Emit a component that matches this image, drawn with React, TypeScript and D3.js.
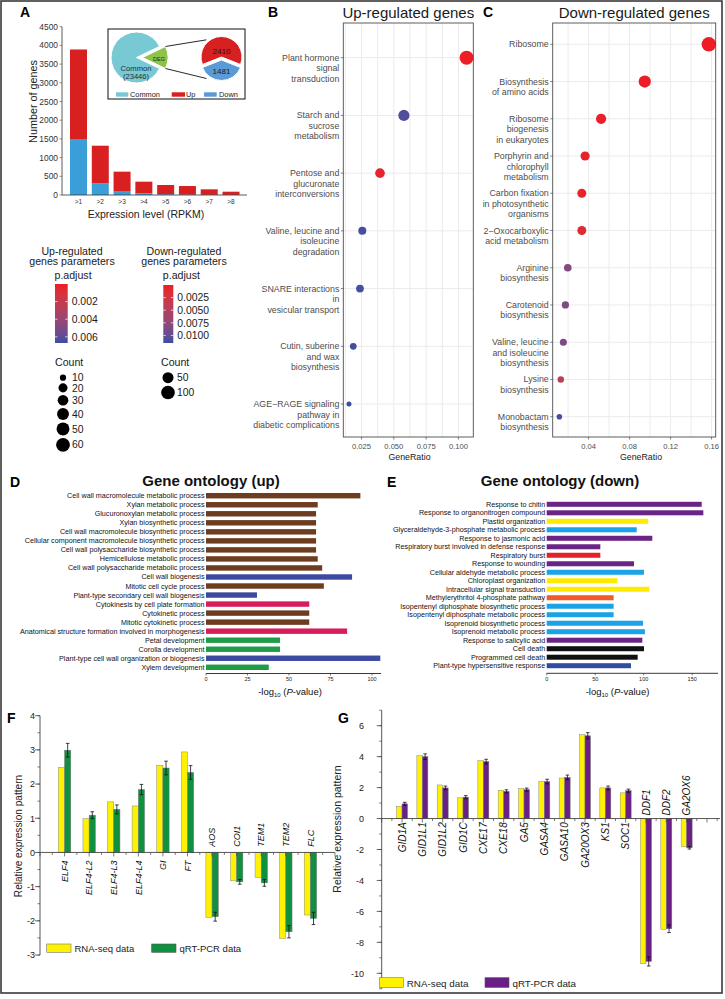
import React from 'react';
import * as d3 from 'd3';

const FONT = '"Liberation Sans", Arial, Helvetica, sans-serif';

// ---------- A: genes by expression level ----------
const rpkmLevels = ['>1', '>2', '>3', '>4', '>5', '>6', '>7', '>8'];
const upGenes = [2410, 1006, 517, 311, 247, 230, 147, 85];
const downGenes = [1481, 312, 107, 45, 20, 10, 5, 3];
const geneTicks = [0, 500, 1000, 1500, 2000, 2500, 3000, 3500, 4000, 4500];
const pieCommon = 23446;
const pieUp = 2410;
const pieDown = 1481;

// ---------- B: KEGG up ----------
const upPathways = [
  'Plant hormone\nsignal\ntransduction',
  'Starch and\nsucrose\nmetabolism',
  'Pentose and\nglucuronate\ninterconversions',
  'Valine, leucine and\nisoleucine\ndegradation',
  'SNARE interactions\nin\nvesicular transport',
  'Cutin, suberine\nand wax\nbiosynthesis',
  'AGE\u2212RAGE signaling\npathway in\ndiabetic complications',
];
const upRatio = [0.1063, 0.0578, 0.0393, 0.0256, 0.0238, 0.0186, 0.0153];
const upCount = [62, 34, 23, 15, 14, 11, 9];
const upPadj = [0.0001, 0.0063, 0.0004, 0.0065, 0.0065, 0.0066, 0.0067];
const upPadjTicks = [0.002, 0.004, 0.006];
const upCountTicks = [10, 20, 30, 40, 50, 60];

// ---------- C: KEGG down ----------
const downPathways = [
  'Ribosome',
  'Biosynthesis\nof amino acids',
  'Ribosome\nbiogenesis\nin eukaryotes',
  'Porphyrin and\nchlorophyll\nmetabolism',
  'Carbon fixation\nin photosynthetic\norganisms',
  '2\u2212Oxocarboxylic\nacid metabolism',
  'Arginine\nbiosynthesis',
  'Carotenoid\nbiosynthesis',
  'Valine, leucine\nand isoleucine\nbiosynthesis',
  'Lysine\nbiosynthesis',
  'Monobactam\nbiosynthesis',
];
const downRatio = [0.1573, 0.0948, 0.0522, 0.0366, 0.0334, 0.0334, 0.0197, 0.0174, 0.0154, 0.0129, 0.0115];
const downCount = [118, 71, 39, 27, 25, 25, 15, 13, 12, 10, 9];
const downPadj = [0.00001, 0.00005, 0.0002, 0.0004, 0.0005, 0.0011, 0.0084, 0.0086, 0.0086, 0.0046, 0.0112];
const downPadjTicks = [0.0025, 0.005, 0.0075, 0.01];
const downCountTicks = [50, 100];

// ---------- D: GO up ----------
const goUpTerms = [
  'Cell wall macromolecule metabolic process',
  'Xylan metabolic process',
  'Glucuronoxylan metabolic process',
  'Xylan biosynthetic process',
  'Cell wall macromolecule biosynthetic process',
  'Cellular component macromolecule biosynthetic process',
  'Cell wall polysaccharide biosynthetic process',
  'Hemicellulose metabolic process',
  'Cell wall polysaccharide metabolic process',
  'Cell wall biogenesis',
  'Mitotic cell cycle process',
  'Plant-type secondary cell wall biogenesis',
  'Cytokinesis by cell plate formation',
  'Cytokinetic process',
  'Mitotic cytokinetic process',
  'Anatomical structure formation involved in morphogenesis',
  'Petal development',
  'Corolla development',
  'Plant-type cell wall organization or biogenesis',
  'Xylem development',
];
const goUpValues = [93, 67.3, 66.3, 66.3, 66.3, 66.3, 66.3, 67.3, 70, 88, 71, 30.7, 62.2, 62.2, 62.2, 85, 44.6, 44.6, 105, 37.8];
const goUpGroups = ['b', 'b', 'b', 'b', 'b', 'b', 'b', 'b', 'b', 'n', 'b', 'n', 'p', 'b', 'b', 'p', 'g', 'g', 'n', 'g'];
const goUpColors: Record<string, string> = { b: '#6e3d1f', n: '#3c4aa0', p: '#d81d5c', g: '#1f9c48' };

// ---------- E: GO down ----------
const goDownTerms = [
  'Response to chitin',
  'Response to organonitrogen compound',
  'Plastid organization',
  'Glyceraldehyde-3-phosphate metabolic process',
  'Response to jasmonic acid',
  'Respiratory burst involved in defense response',
  'Respiratory burst',
  'Response to wounding',
  'Cellular aldehyde metabolic process',
  'Chloroplast organization',
  'Intracellular signal transduction',
  'Methylerythritol 4-phosphate pathway',
  'Isopentenyl diphosphate biosynthetic process',
  'Isopentenyl diphosphate metabolic process',
  'Isoprenoid biosynthetic process',
  'Isoprenoid metabolic process',
  'Response to salicylic acid',
  'Cell death',
  'Programmed cell death',
  'Plant-type hypersensitive response',
];
const goDownValues = [159.8, 161.5, 104.7, 92.8, 108.9, 55.3, 55.3, 90, 100.3, 72.8, 105.8, 69, 69, 69, 99.3, 101.3, 98.6, 100.3, 93.8, 86.9];
const goDownGroups = ['v', 'v', 'y', 'c', 'v', 'v', 'r', 'v', 'c', 'y', 'y', 'o', 'c', 'c', 'c', 'c', 'v', 'k', 'k', 'n'];
const goDownColors: Record<string, string> = {
  v: '#6a2485', y: '#ffeb00', c: '#1ca2e6', r: '#e5222a', o: '#f15a29', k: '#111111', n: '#2f4e9f',
};

// ---------- F: validation 1 ----------
const fGenes = ['ELF4', 'ELF4-L2', 'ELF4-L3', 'ELF4-L4', 'GI', 'FT', 'AOS', 'COI1', 'TEM1', 'TEM2', 'FLC'];
const fRnaSeq = [2.49, 0.99, 1.48, 1.36, 2.55, 2.94, -1.9, -0.83, -0.73, -2.52, -1.83];
const fQpcr = [2.99, 1.09, 1.26, 1.84, 2.47, 2.34, -1.88, -0.86, -0.89, -2.32, -1.93];
const fQpcrErr = [0.2, 0.1, 0.13, 0.15, 0.2, 0.2, 0.13, 0.07, 0.1, 0.18, 0.18];

// ---------- G: validation 2 ----------
const gGenes = ['GID1A', 'GID1L1', 'GID1L2', 'GID1C', 'CXE17', 'CXE18', 'GA5', 'GASA4', 'GASA10', 'GA20OX3', 'KS1', 'SOC1', 'DDF1', 'DDF2', 'GA2OX6'];
const gRnaSeq = [0.79, 4.06, 2.17, 1.34, 3.74, 1.83, 1.94, 2.39, 2.62, 5.42, 1.98, 1.66, -9.38, -7.16, -1.81];
const gQpcr = [0.95, 4.0, 1.98, 1.38, 3.68, 1.76, 1.87, 2.39, 2.66, 5.35, 1.98, 1.8, -9.23, -7.12, -1.89];
const gQpcrErr = [0.1, 0.18, 0.12, 0.1, 0.15, 0.1, 0.1, 0.15, 0.15, 0.2, 0.12, 0.1, 0.3, 0.25, 0.08];

const P_LOW = '#ee1c25';
const P_HIGH = '#3b4ea3';
const colorUp = d3.scaleLinear<string>().domain([0, 0.0067]).range([P_LOW, P_HIGH]).interpolate(d3.interpolateLab);
const colorDown = d3.scaleLinear<string>().domain([0, 0.0115]).range([P_LOW, P_HIGH]).interpolate(d3.interpolateLab);

// ggplot-like area scale for point sizes
function sizeScale(counts: number[], rMin: number, rMax: number) {
  const norm = d3.scaleLinear().domain(d3.extent(counts) as [number, number]).range([0, 1]).clamp(true);
  const rad = d3.scaleLinear().domain([0, 1]).range([rMin, rMax]);
  return (c: number) => rad(Math.sqrt(norm(c)));
}
const sizeUp = sizeScale(upCount, 2.5, 7);
const sizeDown = sizeScale(downCount, 2.8, 7.2);

function PanelA() {
  const x = d3.scaleBand<string>().domain(rpkmLevels).range([67.6, 241.9]).paddingInner(0.22).paddingOuter(0.11);
  const y = d3.scaleLinear().domain([0, 4500]).range([195, 26.7]);
  const rows = rpkmLevels.map((level, i) => ({ level, down: downGenes[i], up: upGenes[i] }));
  const series = d3.stack<any>().keys(['down', 'up'])(rows);
  const fills: Record<string, string> = { down: '#3a9fd8', up: '#d7201f' };

  // inset pies
  const c1 = [136.5, 57.5];
  const r1 = 25.5;
  const deg = pieUp + pieDown;
  const half = Math.PI * deg / (pieCommon + deg);
  const pie1 = d3.pie<number>().sort(null).startAngle(Math.PI / 2 + half).endAngle(Math.PI / 2 + half + 2 * Math.PI)([pieCommon, deg]);
  const arc1 = d3.arc<d3.PieArcDatum<number>>().innerRadius(0).outerRadius(r1);
  const off = 6;
  const c2 = [221.5, 58.5];
  const r2 = 20.5;
  const upAng = 2 * Math.PI * pieUp / (pieUp + pieDown);
  const pie2 = d3.pie<number>().sort(null).startAngle(-upAng / 2).endAngle(-upAng / 2 + 2 * Math.PI)([pieUp, pieDown]);
  const arc2 = d3.arc<d3.PieArcDatum<number>>().innerRadius(0).outerRadius(r2);
  const pt = (c: number[], r: number, a: number) => [c[0] + r * Math.sin(a), c[1] - r * Math.cos(a)];
  const degC = [c1[0] + off, c1[1]];
  const lineA = [pt(degC, r1, Math.PI / 2 - half), pt(c2, 24, -0.68)];
  const lineB = [pt(degC, r1, Math.PI / 2 + half), pt(c2, 25, -2.5)];
  const pie2Cols = ['#d7201f', '#5b9bd5'];
  const pie2Lab = [7.5, 12.5];

  return (
    <g>
      <text x={20} y={17} fontSize={14} fontWeight="bold">A</text>
      {geneTicks.map(t => (
        <g key={t}>
          <line x1={59.5} x2={62} y1={y(t)} y2={y(t)} stroke="#444" strokeWidth={0.6} />
          <text x={58} y={y(t) + 3} textAnchor="end" fontSize={8.4} fill="#333">{t}</text>
        </g>
      ))}
      <line x1={62} x2={62} y1={y(4500)} y2={y(0)} stroke="#333" strokeWidth={0.8} />
      {series.map(s => s.map((d, i) => (
        <rect key={s.key + i} x={x(rpkmLevels[i])} width={x.bandwidth()} y={y(d[1])}
          height={y(d[0]) - y(d[1])} fill={fills[s.key]} />
      )))}
      <line x1={62} x2={247} y1={y(0)} y2={y(0)} stroke="#333" strokeWidth={0.8} />
      {rpkmLevels.map(l => (
        <text key={l} x={(x(l) || 0) + x.bandwidth() / 2} y={204} textAnchor="middle" fontSize={6.5} fill="#333">{l}</text>
      ))}
      <text x={146} y={218} textAnchor="middle" fontSize={10.5} fill="#222">Expression level (RPKM)</text>
      <text transform="translate(37,101.5) rotate(-90)" textAnchor="middle" fontSize={10.8} fill="#222">Number of genes</text>

      <rect x={108} y={29} width={137} height={70} fill="#fff" stroke="#111" strokeWidth={1} />
      <path d={arc1(pie1[0]) || ''} transform={`translate(${c1[0]},${c1[1]})`} fill="#77c9d4" stroke="#fff" strokeWidth={1} />
      <path d={arc1(pie1[1]) || ''} transform={`translate(${degC[0]},${degC[1]})`} fill="#8dc34b" stroke="#fff" strokeWidth={1} />
      <line x1={lineA[0][0]} y1={lineA[0][1]} x2={lineA[1][0]} y2={lineA[1][1]} stroke="#111" strokeWidth={0.9} />
      <line x1={lineB[0][0]} y1={lineB[0][1]} x2={lineB[1][0]} y2={lineB[1][1]} stroke="#111" strokeWidth={0.9} />
      {pie2.map((d, i) => {
        const mid = (d.startAngle + d.endAngle) / 2;
        const cc = pt(c2, 1.5, mid);
        const lp = pt(c2, pie2Lab[i], mid);
        return (
          <g key={i}>
            <path d={arc2(d) || ''} transform={`translate(${cc[0]},${cc[1]})`} fill={pie2Cols[i]} stroke="#fff" strokeWidth={1} />
            <text x={lp[0]} y={lp[1] + 3} textAnchor="middle" fontSize={8} fill="#1a1a1a">{i === 0 ? pieUp : pieDown}</text>
          </g>
        );
      })}
      <text x={159} y={61} textAnchor="middle" fontSize={5.5} fill="#1a2a1a">DEG</text>
      <text x={136} y={71} textAnchor="middle" fontSize={7.6} fill="#1a2f3a">Common</text>
      <text x={136} y={78.5} textAnchor="middle" fontSize={7.6} fill="#1a2f3a">({pieCommon})</text>
      <rect x={116} y={92.3} width={12.3} height={4.4} fill="#77c9d4" />
      <text x={130} y={96.8} fontSize={7.4} fill="#222">Common</text>
      <rect x={171.7} y={92.3} width={13.3} height={4.4} fill="#d7201f" />
      <text x={186} y={96.8} fontSize={7.4} fill="#222">Up</text>
      <rect x={204} y={92.3} width={12.7} height={4.4} fill="#5b9bd5" />
      <text x={219} y={96.8} fontSize={7.4} fill="#222">Down</text>
    </g>
  );
}

function ParamLegend(props: {
  id: string; heading: string[]; headX: number; barX: number; barW: number; barRange: [number, number];
  domain: [number, number]; color: (p: number) => string; ticks: number[]; fmt: string;
  counts: number[]; size: (c: number) => number; countX: number; circleX: number; labelX: number;
}) {
  const { id, heading, headX, barX, barW, barRange, domain, color, ticks, fmt, counts, size, countX, circleX, labelX } = props;
  const y = d3.scaleLinear().domain(domain).range(barRange);
  const stops = d3.range(0, 1.0001, 0.1);
  const f = d3.format(fmt);
  let cy = 377.7;
  const circles = counts.map((c, i) => {
    if (i > 0) cy += size(counts[i - 1]) + size(c) + 2.5;
    return { c, cy };
  });
  return (
    <g fill="#1a1a1a">
      <defs>
        <linearGradient id={id} x1="0" y1="0" x2="0" y2="1">
          {stops.map(s => <stop key={s} offset={s} stopColor={color(domain[0] + s * (domain[1] - domain[0]))} />)}
        </linearGradient>
      </defs>
      {heading.map((h, i) => (
        <text key={h} x={headX} y={255 + i * 10.3} textAnchor="middle" fontSize={10.6}>{h}</text>
      ))}
      <text x={barX - 0.5} y={278.5} fontSize={10.6}>p.adjust</text>
      <rect x={barX} y={barRange[0]} width={barW} height={barRange[1] - barRange[0]} fill={`url(#${id})`} />
      {ticks.map(t => (
        <g key={t}>
          <line x1={barX} x2={barX + 2.5} y1={y(t)} y2={y(t)} stroke="#fff" strokeWidth={0.7} />
          <line x1={barX + barW - 2.5} x2={barX + barW} y1={y(t)} y2={y(t)} stroke="#fff" strokeWidth={0.7} />
          <text x={barX + barW + 4} y={y(t) + 3.7} fontSize={10.4}>{f(t)}</text>
        </g>
      ))}
      <text x={countX} y={366} fontSize={10.6}>Count</text>
      {circles.map(d => (
        <g key={d.c}>
          <circle cx={circleX} cy={d.cy} r={size(d.c)} fill="#000" />
          <text x={labelX} y={d.cy + 3.7} fontSize={10.4}>{d.c}</text>
        </g>
      ))}
    </g>
  );
}

function DotPanel(props: {
  letter: string; letterX: number; title: string; left: number; right: number; top: number; bottom: number;
  xDomain: [number, number]; xRange: [number, number]; ticks: number[]; fmt: string; names: string[];
  ratios: number[]; counts: number[]; padj: number[]; color: (p: number) => string; size: (c: number) => number;
  yFirst: number; yLast: number; ratioX: number;
}) {
  const p = props;
  const x = d3.scaleLinear().domain(p.xDomain).range(p.xRange);
  const y = d3.scalePoint<string>().domain(p.names).range([p.yFirst, p.yLast]);
  const f = d3.format(p.fmt);
  const step = p.ticks[1] - p.ticks[0];
  const grid = d3.range(p.ticks[0] - step / 2, p.xDomain[1] + 1e-9, step / 2).filter(t => x(t) > p.left && x(t) < p.right);
  return (
    <g>
      <text x={p.letterX} y={17} fontSize={14} fontWeight="bold">{p.letter}</text>
      <text x={(p.left + p.right) / 2} y={18} textAnchor="middle" fontSize={15} fill="#1a1a1a">{p.title}</text>
      {grid.map(t => (
        <line key={'g' + t} x1={x(t)} x2={x(t)} y1={p.top} y2={p.bottom} stroke="#ebebeb" strokeWidth={1} />
      ))}
      {p.names.map(n => (
        <line key={'h' + n} x1={p.left} x2={p.right} y1={y(n)} y2={y(n)} stroke="#ebebeb" strokeWidth={1} />
      ))}
      {p.names.map((n, i) => (
        <circle key={'c' + n} cx={x(p.ratios[i])} cy={y(n)} r={p.size(p.counts[i])} fill={p.color(p.padj[i])} />
      ))}
      <rect x={p.left} y={p.top} width={p.right - p.left} height={p.bottom - p.top} fill="none" stroke="#4d4d4d" strokeWidth={0.9} />
      {p.names.map(n => (
        <g key={'l' + n}>
          <line x1={p.left - 2.5} x2={p.left} y1={y(n)} y2={y(n)} stroke="#4d4d4d" strokeWidth={0.7} />
          <text x={p.left - 4} y={(y(n) || 0) + 3} textAnchor="end" fontSize={8.8} fill="#4d4d4d">
            {n.split('\n').map((line, i) => (
              <tspan key={i} x={p.left - 4} dy={i === 0 ? 0 : 10.5}>{line}</tspan>
            ))}
          </text>
        </g>
      ))}
      {p.ticks.map(t => (
        <g key={'t' + t}>
          <line x1={x(t)} x2={x(t)} y1={p.bottom} y2={p.bottom + 2.5} stroke="#4d4d4d" strokeWidth={0.7} />
          <text x={x(t)} y={p.bottom + 12} textAnchor="middle" fontSize={7.6} fill="#4d4d4d">{f(t)}</text>
        </g>
      ))}
      <text x={p.ratioX} y={460} textAnchor="middle" fontSize={8.8} fill="#1a1a1a">GeneRatio</text>
    </g>
  );
}

function GoPanel(props: {
  letter: string; letterX: number; title: string; titleX: number; terms: string[]; values: number[];
  groups: string[]; colors: Record<string, string>; xDomain: [number, number]; xRange: [number, number];
  axisEnd: number; ticks: number[]; yRange: [number, number]; padIn: number; axisY: number; labelCenter: number;
}) {
  const p = props;
  const x = d3.scaleLinear().domain(p.xDomain).range(p.xRange);
  const y = d3.scaleBand<string>().domain(p.terms).range(p.yRange).paddingInner(p.padIn).paddingOuter(p.padIn / 2);
  return (
    <g>
      <text x={p.letterX} y={487} fontSize={14} fontWeight="bold">{p.letter}</text>
      <text x={p.titleX} y={486} textAnchor="middle" fontSize={15} fontWeight="bold" fill="#111">{p.title}</text>
      {p.terms.map((t, i) => (
        <g key={t}>
          <rect x={x(0)} y={y(t)} width={x(p.values[i]) - x(0)} height={y.bandwidth()} fill={p.colors[p.groups[i]]} />
          <text x={x(0) - 1.5} y={(y(t) || 0) + y.bandwidth() / 2 + 2.5} textAnchor="end" fontSize={7.2} fill="#111">{t}</text>
        </g>
      ))}
      <line x1={x(0)} x2={p.axisEnd} y1={p.axisY} y2={p.axisY} stroke="#222" strokeWidth={0.9} />
      {p.ticks.map(t => (
        <g key={t}>
          <line x1={x(t)} x2={x(t)} y1={p.axisY} y2={p.axisY + 2} stroke="#222" strokeWidth={0.6} />
          <text x={x(t)} y={p.axisY + 7.5} textAnchor="middle" fontSize={5.5} fill="#222">{t}</text>
        </g>
      ))}
      <text x={p.labelCenter} y={695} textAnchor="middle" fontSize={9.5} fill="#111">
        -log<tspan fontSize={6} dy={2}>10</tspan><tspan dy={-2}> (</tspan><tspan fontStyle="italic">P</tspan>-value)
      </text>
    </g>
  );
}

function ExprPanel(props: {
  letter: string; letterX: number; genes: string[]; rna: number[]; qpcr: number[]; err: number[];
  yDomain: [number, number]; yRange: [number, number]; axisDomain: [number, number];
  majorStep: number; minorStep: number; xLeft: number; xRight: number; trailing: number; axisEnd: number;
  barW: number; qColor: string; tickLabelX: number; yLabelX: number; yLabelY: number; yLabelSize: number;
  geneSize: number; below: number; above: number; legendY: number; legendX: number[]; legendSize: number; swW: number; swH: number;
}) {
  const p = props;
  const y = d3.scaleLinear().domain(p.yDomain).range(p.yRange);
  const slots = ['', ...p.genes, ...d3.range(p.trailing).map(i => ' '.repeat(i + 1))];
  const x = d3.scalePoint<string>().domain(slots).range([p.xLeft, p.xRight]);
  const y0 = y(0);
  const majors = d3.range(p.yDomain[0], p.yDomain[1] + 1e-9, p.majorStep);
  const minors = d3.range(p.axisDomain[0], p.axisDomain[1] + 1e-9, p.minorStep);
  const step = x.step();
  const xTicks = d3.range(p.xLeft, p.axisEnd + 0.1, step / 2);
  const cap = p.geneSize * 0.36;
  return (
    <g>
      <text x={p.letterX} y={722.5} fontSize={14} fontWeight="bold">{p.letter}</text>
      <line x1={p.xLeft} x2={p.xLeft} y1={y(p.axisDomain[0])} y2={y(p.axisDomain[1])} stroke="#444" strokeWidth={0.9} />
      {minors.map(v => (
        <line key={'m' + v} x1={p.xLeft - 2.5} x2={p.xLeft} y1={y(v)} y2={y(v)} stroke="#444" strokeWidth={0.7} />
      ))}
      {majors.map(v => (
        <g key={'M' + v}>
          <line x1={p.xLeft - 5} x2={p.xLeft} y1={y(v)} y2={y(v)} stroke="#444" strokeWidth={0.8} />
          <text x={p.tickLabelX} y={y(v) + 3.3} textAnchor="end" fontSize={9} fill="#222">{v}</text>
        </g>
      ))}
      <text transform={`translate(${p.yLabelX},${p.yLabelY}) rotate(-90)`} textAnchor="middle" fontSize={p.yLabelSize} fill="#222">
        Relative expression pattern
      </text>
      {p.genes.map((g, i) => {
        const cx = x(g) || 0;
        const e = p.err[i];
        const qx = cx + p.barW / 2;
        return (
          <g key={g}>
            <rect x={cx - p.barW} y={Math.min(y(p.rna[i]), y0)} width={p.barW} height={Math.abs(y(p.rna[i]) - y0)}
              fill="#fff200" stroke="#8a8a8a" strokeWidth={0.5} />
            <rect x={cx} y={Math.min(y(p.qpcr[i]), y0)} width={p.barW} height={Math.abs(y(p.qpcr[i]) - y0)}
              fill={p.qColor} stroke="#777" strokeWidth={0.5} />
            <line x1={qx} x2={qx} y1={y(p.qpcr[i] - e)} y2={y(p.qpcr[i] + e)} stroke="#111" strokeWidth={0.8} />
            <line x1={qx - 1.8} x2={qx + 1.8} y1={y(p.qpcr[i] - e)} y2={y(p.qpcr[i] - e)} stroke="#111" strokeWidth={0.8} />
            <line x1={qx - 1.8} x2={qx + 1.8} y1={y(p.qpcr[i] + e)} y2={y(p.qpcr[i] + e)} stroke="#111" strokeWidth={0.8} />
            {p.rna[i] >= 0 ? (
              <text transform={`translate(${cx + cap},${y0 + p.below}) rotate(-90)`} textAnchor="end"
                fontSize={p.geneSize} fontStyle="italic" fill="#111">{g}</text>
            ) : (
              <text transform={`translate(${cx + cap},${y0 - p.above}) rotate(-90)`} textAnchor="start"
                fontSize={p.geneSize} fontStyle="italic" fill="#111">{g}</text>
            )}
          </g>
        );
      })}
      <line x1={p.xLeft} x2={p.axisEnd} y1={y0} y2={y0} stroke="#444" strokeWidth={0.9} />
      {xTicks.map((t, i) => (
        <line key={'x' + i} x1={t} x2={t} y1={y0} y2={y0 + (i % 2 === 0 ? 4 : 2.5)} stroke="#444" strokeWidth={0.7} />
      ))}
      <rect x={p.legendX[0]} y={p.legendY} width={p.swW} height={p.swH} fill="#fff200" stroke="#777" strokeWidth={0.6} />
      <text x={p.legendX[0] + p.swW + 3.5} y={p.legendY + p.swH - 0.8} fontSize={p.legendSize} fill="#222">RNA-seq data</text>
      <rect x={p.legendX[1]} y={p.legendY} width={p.swW} height={p.swH} fill={p.qColor} stroke="#555" strokeWidth={0.6} />
      <text x={p.legendX[1] + p.swW + 3.5} y={p.legendY + p.swH - 0.8} fontSize={p.legendSize} fill="#222">qRT-PCR data</text>
    </g>
  );
}

export default function App() {
  return (
    <svg width={725} height={999} viewBox="0 0 725 999" fontFamily={FONT}
      style={{ position: 'absolute', left: 0, top: 0, display: 'block', background: '#fff' }}>
      <rect x={0} y={0} width={725} height={999} fill="#fff" />
      <PanelA />
      <ParamLegend id="gradUp" heading={['Up-regulated', 'genes parameters']} headX={72} barX={55} barW={12.7}
        barRange={[284, 343]} domain={[0, 0.0067]} color={colorUp} ticks={upPadjTicks} fmt=".3f"
        counts={upCountTicks} size={sizeUp} countX={55} circleX={63} labelX={72} />
      <ParamLegend id="gradDown" heading={['Down-regulated', 'genes parameters']} headX={184} barX={163.3} barW={10}
        barRange={[285, 343]} domain={[0, 0.0115]} color={colorDown} ticks={downPadjTicks} fmt=".4f"
        counts={downCountTicks} size={sizeDown} countX={161} circleX={168} labelX={177} />
      <DotPanel letter="B" letterX={268} title="Up-regulated genes" left={343.3} right={473.3} top={23} bottom={437}
        xDomain={[0.0109, 0.1115]} xRange={[343.3, 473.3]} ticks={[0.025, 0.05, 0.075, 0.1]} fmt=".3f"
        names={upPathways} ratios={upRatio} counts={upCount} padj={upPadj} color={colorUp} size={sizeUp}
        yFirst={57.7} yLast={404} ratioX={409.5} />
      <DotPanel letter="C" letterX={483} title="Down-regulated genes" left={552.7} right={715.7} top={23} bottom={437}
        xDomain={[0.005, 0.164]} xRange={[552.7, 715.7]} ticks={[0.04, 0.08, 0.12, 0.16]} fmt=".2f"
        names={downPathways} ratios={downRatio} counts={downCount} padj={downPadj} color={colorDown} size={sizeDown}
        yFirst={44.3} yLast={416.7} ratioX={641} />
      <GoPanel letter="D" letterX={10} title="Gene ontology (up)" titleX={211} terms={goUpTerms} values={goUpValues}
        groups={goUpGroups} colors={goUpColors} xDomain={[0, 105]} xRange={[206, 380.3]} axisEnd={381}
        ticks={[0, 25, 50, 75, 100]} yRange={[491.2, 671.8]} padIn={0.4} axisY={673.5} labelCenter={290} />
      <GoPanel letter="E" letterX={387} title="Gene ontology (down)" titleX={560} terms={goDownTerms} values={goDownValues}
        groups={goDownGroups} colors={goDownColors} xDomain={[0, 176]} xRange={[546.7, 717.4]} axisEnd={718}
        ticks={[0, 50, 100, 150]} yRange={[500.05, 669.95]} padIn={0.41} axisY={673.3} labelCenter={617.5} />
      <ExprPanel letter="F" letterX={7} genes={fGenes} rna={fRnaSeq} qpcr={fQpcr} err={fQpcrErr}
        yDomain={[-3, 4]} yRange={[955, 715.7]} axisDomain={[-3, 4]} majorStep={1} minorStep={0.5}
        xLeft={40} xRight={335} trailing={1} axisEnd={335} barW={6.2} qColor="#10913f" tickLabelX={35}
        yLabelX={22} yLabelY={836} yLabelSize={10.1} geneSize={9} below={8} above={5.6}
        legendY={944} legendX={[46.7, 151.7]} legendSize={9.5} swW={24.3} swH={8.3} />
      <ExprPanel letter="G" letterX={338} genes={gGenes} rna={gRnaSeq} qpcr={gQpcr} err={gQpcrErr}
        yDomain={[-10, 6]} yRange={[973.3, 725.7]} axisDomain={[-11, 7]} majorStep={2} minorStep={1}
        xLeft={381.7} xRight={727.3} trailing={2} axisEnd={720} barW={5.5} qColor="#6a1f87" tickLabelX={364}
        yLabelX={341} yLabelY={829} yLabelSize={10.5} geneSize={10} below={3.7} above={3}
        legendY={977.7} legendX={[379.3, 485]} legendSize={9.8} swW={24} swH={9.7} />
      <rect x={1} y={1} width={721} height={992} fill="none" stroke="#3a3a3a" strokeWidth={1.6} />
    </svg>
  );
}
